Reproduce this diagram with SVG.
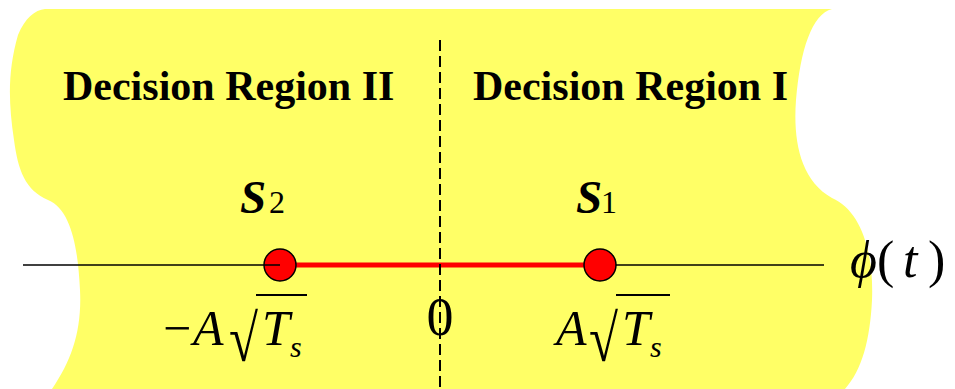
<svg xmlns="http://www.w3.org/2000/svg" width="955" height="389" viewBox="0 0 955 389">
<style>
.serif{font-family:"Liberation Serif","DejaVu Serif",serif;fill:#000}
.title{font-size:42px;font-weight:bold}
.it{font-style:italic}
.pt{fill:#FF0000;stroke:#000;stroke-width:1.5}
.rad{font-size:66px}
</style>
<rect width="955" height="389" fill="#fff"/>
<path id="region" d="M45 9 L832 9 C812 14 800 50 796 100 C793 140 800 180 832 198 C860 210 874 250 872 300 C870 340 862 370 845 389 L52 389 C72 360 82 330 80 290 C78 250 72 210 48 200 C25 190 18 170 14 140 C8 100 8 70 18 35 C25 18 35 10 45 9 Z" fill="#FFFF66"/>
<g id="connectors">
<line x1="600" y1="265" x2="824" y2="265" stroke="#000" stroke-width="1.5"/>
<line x1="280" y1="265" x2="600" y2="265" stroke="#FF0000" stroke-width="5"/>
</g>
<g id="s2"><circle class="pt" cx="280" cy="265" r="16"/></g>
<g id="s1"><circle class="pt" cx="600" cy="265" r="16"/></g>
<line x1="23" y1="265" x2="280" y2="265" stroke="#000" stroke-width="1.5"/>
<line x1="440" y1="40" x2="440" y2="389" stroke="#000" stroke-width="2" stroke-dasharray="11 5"/>
<g id="labels">
<text class="serif title" x="63" y="100">Decision Region II</text>
<text class="serif title" x="473" y="100">Decision Region I</text>
<text class="serif" y="213"><tspan x="240" class="it" font-weight="bold" font-size="47">S</tspan><tspan x="269" font-size="32">2</tspan></text>
<text class="serif" y="213"><tspan x="576" class="it" font-weight="bold" font-size="47">S</tspan><tspan x="601" font-size="32">1</tspan></text>
<text class="serif" font-size="54" x="440" y="335" text-anchor="middle">0</text>
<text class="serif" font-size="50" y="345"><tspan x="163">−</tspan><tspan x="193" class="it">A</tspan></text>
<text class="serif rad" transform="translate(229 361) scale(0.8 1)">√</text>
<text class="serif it" font-size="50" y="345"><tspan x="262">T</tspan><tspan x="290" y="357" font-size="30">s</tspan></text>
<line x1="256" y1="295" x2="307" y2="295" stroke="#000" stroke-width="2"/>
<text class="serif it" font-size="50" x="556" y="345">A</text>
<text class="serif rad" transform="translate(589 361) scale(0.8 1)">√</text>
<text class="serif it" font-size="50" y="345"><tspan x="622">T</tspan><tspan x="650" y="357" font-size="30">s</tspan></text>
<line x1="616" y1="295" x2="670" y2="295" stroke="#000" stroke-width="2"/>
<text class="serif" font-size="52" y="277"><tspan x="850" class="it">ϕ</tspan><tspan x="877">(</tspan><tspan x="903" class="it">t</tspan><tspan x="928">)</tspan></text>
</g>
</svg>
